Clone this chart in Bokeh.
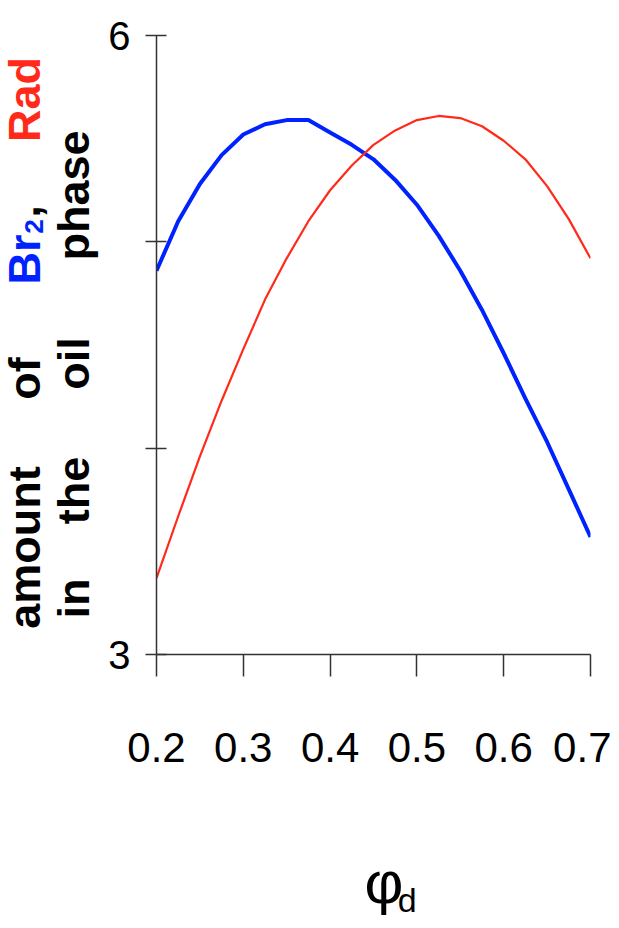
import numpy as np
from bokeh.plotting import figure
from bokeh.models import FixedTicker
from bokeh.layouts import row, column
from bokeh.core.properties import value
from bokeh.embed import file_html
from bokeh.resources import INLINE

# ---- data ----
phi_d = [0.200, 0.225, 0.250, 0.275, 0.300, 0.325, 0.350, 0.375, 0.400, 0.425,
         0.450, 0.475, 0.500, 0.525, 0.550, 0.575, 0.600, 0.625, 0.650, 0.675, 0.700]
br2 = [4.86, 5.10, 5.28, 5.42, 5.52, 5.57, 5.59, 5.59, 5.53, 5.47,
       5.40, 5.30, 5.18, 5.03, 4.86, 4.67, 4.46, 4.24, 4.03, 3.80, 3.57]
rad = [3.37, 3.67, 3.96, 4.23, 4.48, 4.72, 4.92, 5.10, 5.25, 5.37,
       5.47, 5.54, 5.59, 5.61, 5.60, 5.56, 5.49, 5.40, 5.27, 5.11, 4.92]

x_ticks = [0.2, 0.3, 0.4, 0.5, 0.6, 0.7]
x_tick_labels = ["0.2", "0.3", "0.4", "0.5", "0.6", "0.7"]
y_ticks = [3, 4, 5, 6]
y_tick_labels = ["3", "", "", "6"]

# y-axis title, word by word (two lines, rotated)
title1_words = ["amount", "of", "Br", "2", ",", "Rad"]
title2_words = ["in", "the", "oil", "phase"]

BLUE = "#0022ff"
RED = "#ff2a1a"
AXIS = "#333333"
FONT = "Liberation Sans"

W, H = 611, 920          # whole page content
LEFT_W = 100             # width of the panel holding the y title
MAIN_H = 790             # height of the chart panel


def blank(width, height):
    f = figure(width=width, height=height, x_range=(0, width), y_range=(0, height),
               output_backend="svg", toolbar_location=None,
               min_border_left=0, min_border_right=0, min_border_top=0, min_border_bottom=0)
    f.axis.visible = False
    f.grid.visible = False
    f.outline_line_color = None
    f.background_fill_color = "white"
    f.border_fill_color = "white"
    return f


# ---- main chart ----
p = figure(width=W - LEFT_W, height=MAIN_H, x_range=(0.2, 0.7), y_range=(3, 6),
           output_backend="svg", toolbar_location=None,
           min_border_left=56, min_border_right=21,
           min_border_top=35, min_border_bottom=136)
p.outline_line_color = None
p.grid.visible = False
p.background_fill_color = "white"
p.border_fill_color = "white"

p.line(phi_d, br2, line_color=BLUE, line_width=4, line_join="round")
p.line(phi_d, rad, line_color=RED, line_width=2.2, line_join="round")

xa = p.xaxis[0]
xa.ticker = FixedTicker(ticks=x_ticks)
xa.major_label_overrides = dict(zip(x_ticks, x_tick_labels))
xa.minor_tick_line_color = None
xa.major_tick_in = 0
xa.major_tick_out = 22
xa.axis_line_color = AXIS
xa.major_tick_line_color = AXIS
xa.axis_line_width = 1.5
xa.major_tick_line_width = 1.5
xa.major_label_text_font = FONT
xa.major_label_text_font_size = "42px"
xa.major_label_text_color = "black"
xa.major_label_standoff = 56

ya = p.yaxis[0]
ya.ticker = FixedTicker(ticks=y_ticks)
ya.major_label_overrides = dict(zip(y_ticks, y_tick_labels))
ya.minor_tick_line_color = None
ya.major_tick_in = 10
ya.major_tick_out = 11
ya.axis_line_color = AXIS
ya.major_tick_line_color = AXIS
ya.axis_line_width = 1.5
ya.major_tick_line_width = 1.5
ya.major_label_text_font = FONT
ya.major_label_text_font_size = "40px"
ya.major_label_text_color = "black"
ya.major_label_standoff = 15
ya.major_label_orientation = "horizontal"

# ---- left panel: rotated y title (positions in panel pixels, y measured from bottom) ----
ft = blank(LEFT_W, H)


def words(fig, xs, ys, texts, color, size):
    fig.text(x=xs, y=ys, text=texts, angle=np.pi / 2, text_align="center",
             text_baseline="alphabetic", text_font=value(FONT), text_font_style="bold",
             text_font_size=value(size), text_color=color)


L1, L2 = 24, 73   # anchor columns of the two title lines
TS = "45px"
words(ft, [L1, L1, L1], [H - 547, H - 378, H - 211],
      [title1_words[0], title1_words[1], title1_words[4]], "black", TS)
words(ft, [L1], [H - 259], [title1_words[2]], BLUE, TS)
words(ft, [L1 + 9], [H - 226], [title1_words[3]], BLUE, "26px")
words(ft, [L1], [H - 99], [title1_words[5]], RED, TS)
words(ft, [L2, L2, L2, L2], [H - 598, H - 490, H - 363, H - 195], title2_words, "black", TS)

# ---- bottom panel: x title phi_d ----
fb = blank(W - LEFT_W, H - MAIN_H)
fb.text(x=[245], y=[H - 882], text=["φ"], text_align="left",
        text_baseline="alphabetic", text_font=value(FONT), text_font_size=value("60px"),
        text_color="black")
fb.text(x=[284], y=[H - 899], text=["d"], text_align="left",
        text_baseline="alphabetic", text_font=value(FONT), text_font_size=value("34px"),
        text_color="black")

layout = row(ft, column(p, fb))
open("out.html", "w").write(file_html(layout, INLINE))
